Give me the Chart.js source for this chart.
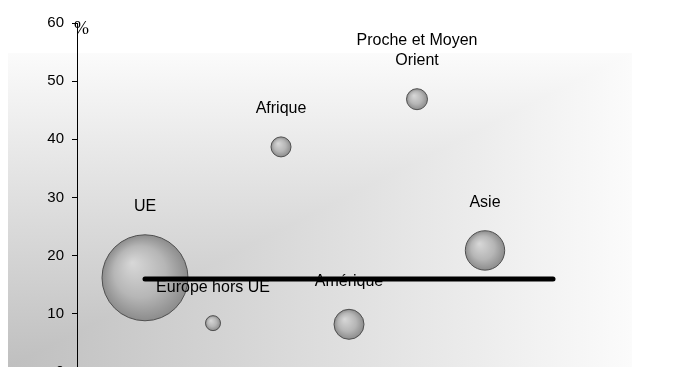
<!DOCTYPE html>
<html>
<head>
<meta charset="utf-8">
<script src="https://cdn.jsdelivr.net/npm/chart.js@4.4.1/dist/chart.umd.min.js"></script>
<style>
html, body { margin: 0; padding: 0; background: #fff; overflow: hidden; width: 682px; height: 367px; }
#wrap { width: 689px; height: 389px; }
</style>
</head>
<body>
<div id="wrap"><canvas id="chart" width="689" height="389"></canvas></div>
<script>
// ── Data ───────────────────────────────────────
const regions = ['UE', 'Europe hors UE', 'Afrique', 'Amérique', 'Proche et Moyen Orient', 'Asie'];
const labelLines = [['UE'], ['Europe hors UE'], ['Afrique'], ['Amérique'], ['Proche et Moyen', 'Orient'], ['Asie']];
const xPos = [1, 2, 3, 4, 5, 6];
const shares = [16.2, 8.4, 38.7, 8.2, 46.9, 20.9];
const bubbleSizes = [43, 7.5, 10, 15, 10.5, 19.7];
const avgX = [1, 7];
const avgValue = 16;

const FONT = '"Liberation Sans", Arial, sans-serif';

// ── Bubble shading ─────────────────────────────
function bubbleFill(ctx) {
    const chart = ctx.chart;
    const raw = ctx.raw;
    if (!raw || !chart.scales.x || !chart.scales.y) return '#b0b0b0';
    const x = chart.scales.x.getPixelForValue(raw.x);
    const y = chart.scales.y.getPixelForValue(raw.y);
    const r = raw.r;
    if (!isFinite(x) || !isFinite(y)) return '#b0b0b0';
    const g = chart.ctx.createRadialGradient(x - r * 0.3, y - r * 0.35, 0, x, y, r);
    g.addColorStop(0, '#d8d8d8');
    g.addColorStop(0.6, '#b6b6b6');
    g.addColorStop(1, '#8c8c8c');
    return g;
}

// ── Plugins ────────────────────────────────────
const panelBg = {
    id: 'panelBg',
    beforeDraw(chart) {
        const c = chart.ctx;
        const left = 8, top = 53, right = 632, bottom = chart.height;
        c.save();
        c.fillStyle = '#fff';
        c.fillRect(0, 0, chart.width, chart.height);
        const gh = c.createLinearGradient(left, 0, right, 0);
        gh.addColorStop(0, '#bfbfbf');
        gh.addColorStop(1, '#fbfbfb');
        c.fillStyle = gh;
        c.fillRect(left, top, right - left, bottom - top);
        c.globalCompositeOperation = 'lighten';
        const gv = c.createLinearGradient(0, 367, 0, top);
        gv.addColorStop(0, '#bfbfbf');
        gv.addColorStop(1, '#fbfbfb');
        c.fillStyle = gv;
        c.fillRect(left, top, right - left, bottom - top);
        c.restore();
    }
};

const bubbleLabels = {
    id: 'bubbleLabels',
    afterDatasetDraw(chart, args) {
        if (args.index !== 1) return;
        const c = chart.ctx;
        c.save();
        c.font = '16px ' + FONT;
        c.fillStyle = '#000';
        c.textAlign = 'center';
        c.textBaseline = 'middle';
        args.meta.data.forEach((pt, i) => {
            const lines = labelLines[i];
            const last = pt.y - bubbleSizes[i] - 28;
            lines.forEach((ln, j) => c.fillText(ln, pt.x, last - (lines.length - 1 - j) * 20));
        });
        c.restore();
    }
};

const unitMark = {
    id: 'unitMark',
    afterDraw(chart) {
        const c = chart.ctx;
        c.save();
        c.font = '18px "Liberation Serif", "Times New Roman", serif';
        c.fillStyle = '#000';
        c.textAlign = 'left';
        c.textBaseline = 'middle';
        c.fillText('%', 74, 29);
        c.restore();
    }
};

// ── Chart ──────────────────────────────────────
new Chart(document.getElementById('chart'), {
    type: 'bubble',
    data: {
        datasets: [
            {
                type: 'line',
                order: 0,
                data: avgX.map(x => ({ x: x, y: avgValue })),
                borderColor: '#000',
                borderWidth: 5,
                borderCapStyle: 'round',
                pointRadius: 0,
                fill: false
            },
            {
                type: 'bubble',
                order: 1,
                data: regions.map((name, i) => ({ x: xPos[i], y: shares[i], r: bubbleSizes[i] })),
                backgroundColor: bubbleFill,
                borderColor: '#505050',
                borderWidth: 1
            }
        ]
    },
    options: {
        responsive: false,
        animation: false,
        events: [],
        layout: { autoPadding: false, padding: { top: 23, bottom: 9, left: 0, right: 0 } },
        plugins: { legend: { display: false }, tooltip: { enabled: false } },
        scales: {
            x: { type: 'linear', min: 0, max: 9, display: false },
            y: {
                min: 0, max: 60,
                afterFit(scale) { scale.width = 77; },
                ticks: { stepSize: 10, color: '#000', padding: 8, font: { size: 15, family: FONT } },
                grid: { drawOnChartArea: false, drawTicks: true, tickLength: 5, color: '#000' },
                border: { display: true, color: '#000', width: 1 }
            }
        }
    },
    plugins: [panelBg, bubbleLabels, unitMark]
});
</script>
</body>
</html>
